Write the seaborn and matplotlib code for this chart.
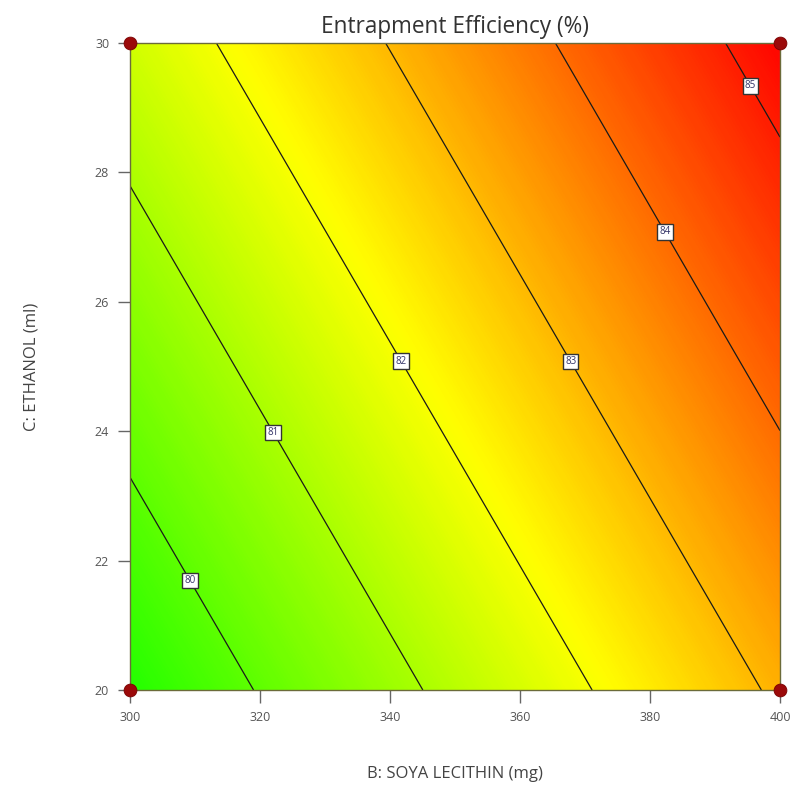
import numpy as np
import pandas as pd
import matplotlib
matplotlib.use("Agg")
import matplotlib.pyplot as plt
import matplotlib.colors as mcolors
import seaborn as sns

# ---- data ----
soya_mg = [300, 350, 400]              # B: SOYA LECITHIN (mg)
ethanol_ml = [20, 25, 30]              # C: ETHANOL (ml)
# Entrapment efficiency (%) on the grid above: rows = ethanol, cols = soya
ee_c20 = [79.27, 81.19, 83.11]
ee_c25 = [80.38, 82.30, 84.22]
ee_c30 = [81.49, 83.41, 85.32]
contour_levels = [80, 81, 82, 83, 84, 85]
label_pos_b = [309.3, 322.3, 342.0, 368.2, 382.6, 395.7]
label_pos_c = [21.7, 24.0, 25.1, 25.1, 27.1, 29.35]
design_b = [300, 400, 300, 400]
design_c = [20, 20, 30, 30]
xticks = [300, 320, 340, 360, 380, 400]
yticks = [20, 22, 24, 26, 28, 30]

sns.set_theme(style="white")
plt.rcParams["font.family"] = ["Open Sans", "DejaVu Sans"]

fig = plt.figure(figsize=(7.95, 7.85), dpi=100)
ax = fig.add_axes([130 / 795, 1 - 690 / 785, 650 / 795, 647 / 785])

Z = np.array([ee_c20, ee_c25, ee_c30])
B, C = np.meshgrid(soya_mg, ethanol_ml)

hues = np.linspace(112, 1, 64) / 360.0
cols = mcolors.hsv_to_rgb(np.stack([hues, np.ones_like(hues), np.ones_like(hues)], axis=1))
cmap = mcolors.LinearSegmentedColormap.from_list("dx", cols)

fill_levels = np.linspace(Z.min() - 0.01, Z.max() + 0.01, 300)
cf = ax.contourf(B, C, Z, levels=fill_levels, cmap=cmap, antialiased=False)
cf.set_edgecolor("face")
cs = ax.contour(B, C, Z, levels=contour_levels, colors="#1a1a1a", linewidths=0.9)
texts = ax.clabel(cs, fmt="%d", fontsize=7, inline=False,
                  manual=list(zip(label_pos_b, label_pos_c)))
for t in texts:
    t.set_bbox(dict(facecolor="white", edgecolor="#333333", linewidth=1.0, pad=1.6))
    t.set_rotation(0)
    t.set_color("#333366")

df = pd.DataFrame({"b": design_b, "c": design_c})
sns.scatterplot(data=df, x="b", y="c", ax=ax, s=85, color="#9b0a0a",
                edgecolor="#7a0000", linewidth=0.6, clip_on=False, zorder=10, legend=False)

ax.set_xlim(300, 400)
ax.set_ylim(20, 30)
ax.set_xticks(xticks)
ax.set_yticks(yticks)
ax.tick_params(axis="both", which="major", direction="out", length=9, width=1,
               color="#666666", labelsize=9, labelcolor="#555555", pad=6,
               bottom=True, left=True)
for s in ax.spines.values():
    s.set_color("#6b6b3a")
    s.set_linewidth(1.0)

ax.set_title("Entrapment Efficiency (%)", fontsize=16.3, color="#333333", pad=7)
ax.set_xlabel("B: SOYA LECITHIN (mg)", fontsize=12, color="#444444", labelpad=30)
ax.set_ylabel("C: ETHANOL (ml)", fontsize=12, color="#444444", labelpad=40)

fig.savefig("out.png", dpi=100)
